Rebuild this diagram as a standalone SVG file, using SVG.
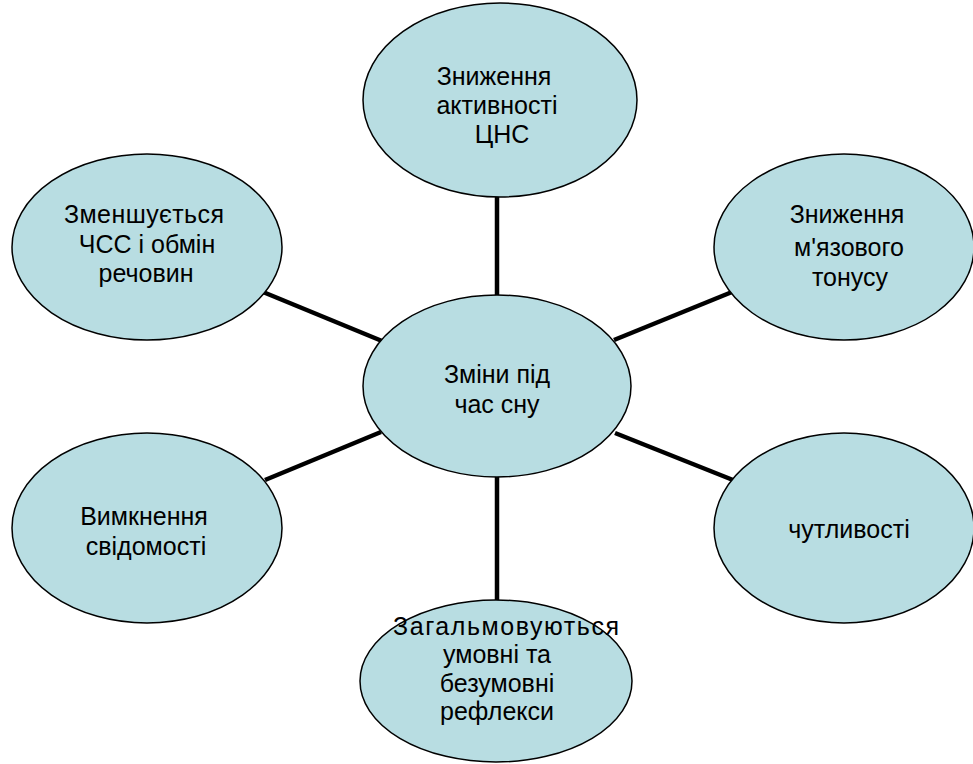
<svg xmlns="http://www.w3.org/2000/svg" width="973" height="764" viewBox="0 0 973 764">
<style>
.n ellipse{fill:#b8dde2;stroke:#000;stroke-width:1.5}
.n text{font-family:"Liberation Sans",Arial,sans-serif;font-size:25px;fill:#000;text-anchor:middle}
.c line{stroke:#000;stroke-width:4.5;stroke-linecap:butt}
</style>
<rect width="973" height="764" fill="#fff"/>
<g class="c" id="connectors">
<line x1="497" y1="196" x2="497" y2="296"/>
<line x1="263" y1="292" x2="382" y2="341"/>
<line x1="732" y1="292" x2="614" y2="340"/>
<line x1="265" y1="480" x2="381" y2="432"/>
<line x1="615" y1="433" x2="733" y2="480"/>
<line x1="497" y1="476" x2="497" y2="601"/>
</g>
<g class="n" id="n-top">
<ellipse cx="500" cy="100" rx="137" ry="97"/>
<text x="494" y="85">Зниження</text>
<text x="497" y="114">активності</text>
<text x="502" y="143">ЦНС</text>
</g>
<g class="n" id="n-center">
<ellipse cx="497" cy="386" rx="134" ry="91"/>
<text x="497" y="383">Зміни під</text>
<text x="497" y="413">час сну</text>
</g>
<g class="n" id="n-topleft">
<ellipse cx="147" cy="247" rx="135" ry="93"/>
<text x="144" y="223" textLength="160" lengthAdjust="spacing">Зменшується</text>
<text x="147" y="253">ЧСС і обмін</text>
<text x="146" y="282">речовин</text>
</g>
<g class="n" id="n-topright">
<ellipse cx="844" cy="247" rx="130" ry="93"/>
<text x="847" y="223">Зниження</text>
<text x="849" y="256">м'язового</text>
<text x="850" y="286">тонусу</text>
</g>
<g class="n" id="n-bottomleft">
<ellipse cx="147" cy="528" rx="135" ry="95"/>
<text x="144" y="525">Вимкнення</text>
<text x="146" y="555">свідомості</text>
</g>
<g class="n" id="n-bottomright">
<ellipse cx="844" cy="528" rx="130" ry="95"/>
<text x="849" y="538">чутливості</text>
</g>
<g class="n" id="n-bottom">
<ellipse cx="496" cy="681" rx="136" ry="81"/>
<text x="506" y="635" textLength="226" lengthAdjust="spacing">Загальмовуються</text>
<text x="497" y="663">умовні та</text>
<text x="497" y="692">безумовні</text>
<text x="497" y="720">рефлекси</text>
</g>
</svg>
